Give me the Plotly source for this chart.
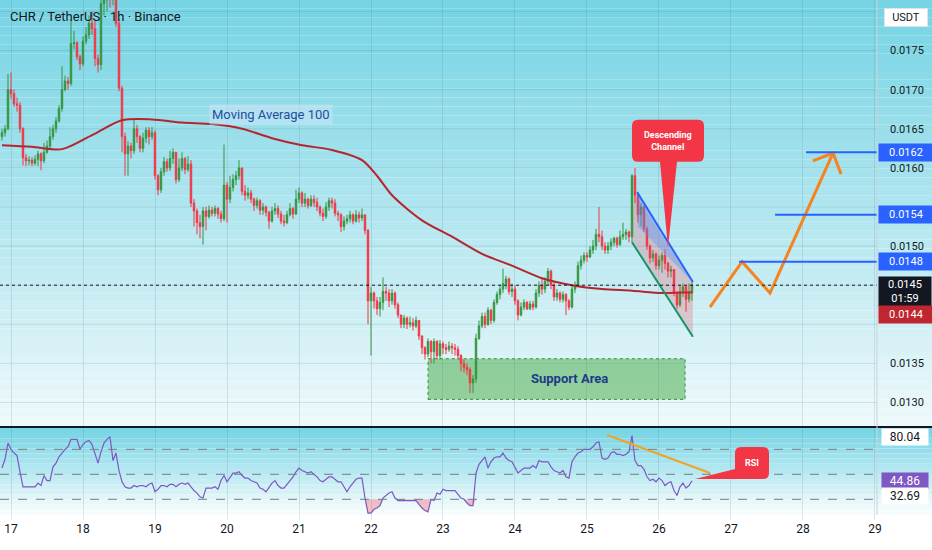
import numpy as np
import pandas as pd

import plotly.graph_objects as go

# CHR / USDT, 1h candles. Prices stored in units of 1e-5 USDT.
start = pd.Timestamp("2024-01-16 21:00")
open_first_e5 = 1640
close_e5 = [
    1645, 1650, 1700, 1695, 1682, 1680, 1650, 1613, 1609, 1610,
    1606, 1611, 1618, 1609, 1620, 1628, 1640, 1650, 1660, 1676,
    1700, 1711, 1708, 1759, 1760, 1742, 1733, 1762, 1770, 1785,
    1778, 1740, 1732, 1810, 1815, 1820, 1818, 1822, 1785, 1702,
    1640, 1618, 1628, 1622, 1650, 1640, 1625, 1638, 1648, 1640,
    1645, 1590, 1572, 1595, 1608, 1600, 1612, 1620, 1585, 1600,
    1612, 1598, 1605, 1555, 1545, 1530, 1525, 1545, 1538, 1546,
    1542, 1548, 1541, 1535, 1578, 1560, 1575, 1585, 1590, 1600,
    1570, 1565, 1568, 1560, 1552, 1558, 1546, 1550, 1543, 1532,
    1545, 1548, 1541, 1532, 1530, 1540, 1548, 1541, 1560, 1568,
    1555, 1560, 1552, 1560, 1556, 1550, 1542, 1538, 1550, 1558,
    1555, 1542, 1540, 1525, 1532, 1535, 1540, 1532, 1540, 1536,
    1540, 1520, 1430, 1440, 1430, 1420, 1428, 1442, 1440, 1430,
    1440, 1425, 1412, 1400, 1408, 1400, 1402, 1398, 1405, 1385,
    1370, 1362, 1378, 1365, 1378, 1360, 1375, 1370, 1368, 1372,
    1370, 1368, 1360, 1350, 1345, 1342, 1325, 1330, 1382, 1398,
    1410, 1400, 1418, 1405, 1428, 1438, 1445, 1452, 1458, 1442,
    1445, 1430, 1412, 1422, 1428, 1420, 1426, 1422, 1440, 1450,
    1445, 1455, 1468, 1450, 1435, 1440, 1432, 1438, 1430, 1422,
    1445, 1450, 1475, 1482, 1488, 1486, 1495, 1500, 1515, 1512,
    1500, 1495, 1500, 1505, 1510, 1502, 1512, 1515, 1518, 1512,
    1590, 1565, 1540, 1550, 1522, 1500, 1485, 1490, 1475, 1482,
    1488, 1478, 1468, 1470, 1440, 1425, 1442, 1448, 1432, 1440,
    1450,
]
high_e5 = [
    1650, 1655, 1720, 1722, 1700, 1690, 1684, 1652, 1618, 1615,
    1614, 1616, 1622, 1620, 1632, 1635, 1652, 1655, 1665, 1680,
    1730, 1718, 1716, 1790, 1775, 1762, 1745, 1768, 1780, 1795,
    1800, 1790, 1745, 1830, 1830, 1835, 1840, 1840, 1825, 1790,
    1705, 1645, 1634, 1632, 1662, 1655, 1642, 1645, 1652, 1652,
    1652, 1648, 1592, 1600, 1614, 1612, 1622, 1625, 1620, 1612,
    1620, 1614, 1615, 1610, 1560, 1548, 1540, 1550, 1550, 1552,
    1550, 1552, 1550, 1545, 1630, 1582, 1590, 1592, 1596, 1610,
    1600, 1578, 1575, 1572, 1562, 1562, 1560, 1555, 1552, 1545,
    1550, 1555, 1552, 1545, 1540, 1545, 1555, 1550, 1572, 1575,
    1570, 1568, 1562, 1565, 1565, 1562, 1552, 1548, 1556, 1562,
    1562, 1560, 1545, 1542, 1538, 1540, 1545, 1542, 1546, 1544,
    1548, 1540, 1522, 1448, 1442, 1435, 1435, 1460, 1448, 1445,
    1445, 1442, 1428, 1412, 1412, 1410, 1410, 1408, 1410, 1405,
    1386, 1372, 1382, 1380, 1382, 1380, 1380, 1378, 1375, 1378,
    1376, 1375, 1372, 1362, 1355, 1350, 1345, 1335, 1388, 1405,
    1415, 1415, 1422, 1420, 1432, 1442, 1450, 1471, 1462, 1460,
    1452, 1450, 1432, 1428, 1432, 1430, 1430, 1430, 1445, 1455,
    1458, 1460, 1472, 1470, 1455, 1445, 1442, 1442, 1440, 1432,
    1450, 1455, 1480, 1488, 1492, 1492, 1500, 1508, 1522, 1550,
    1520, 1505, 1505, 1510, 1512, 1512, 1520, 1530, 1522, 1520,
    1592, 1600, 1568, 1555, 1552, 1525, 1502, 1495, 1492, 1488,
    1492, 1496, 1480, 1475, 1470, 1442, 1450, 1452, 1450, 1452,
    1454,
]
low_e5 = [
    1635, 1640, 1648, 1688, 1678, 1672, 1645, 1603, 1602, 1603,
    1602, 1603, 1602, 1597, 1606, 1618, 1625, 1636, 1645, 1658,
    1672, 1698, 1700, 1705, 1752, 1738, 1725, 1730, 1758, 1765,
    1770, 1730, 1722, 1725, 1795, 1800, 1805, 1808, 1780, 1698,
    1620, 1590, 1590, 1612, 1618, 1632, 1620, 1620, 1632, 1630,
    1636, 1585, 1565, 1568, 1590, 1595, 1596, 1605, 1580, 1582,
    1596, 1592, 1595, 1550, 1525, 1515, 1510, 1502, 1520, 1535,
    1538, 1538, 1535, 1530, 1532, 1530, 1555, 1570, 1578, 1585,
    1565, 1558, 1560, 1555, 1545, 1548, 1540, 1540, 1538, 1522,
    1530, 1540, 1536, 1528, 1525, 1528, 1538, 1535, 1540, 1555,
    1550, 1550, 1548, 1550, 1550, 1545, 1538, 1532, 1535, 1545,
    1548, 1538, 1532, 1518, 1520, 1528, 1530, 1528, 1530, 1530,
    1532, 1515, 1400, 1360, 1420, 1412, 1410, 1418, 1430, 1422,
    1425, 1420, 1408, 1395, 1395, 1394, 1396, 1392, 1395, 1380,
    1362, 1355, 1358, 1350, 1350, 1355, 1355, 1362, 1362, 1365,
    1362, 1360, 1355, 1340, 1338, 1335, 1312, 1312, 1325, 1380,
    1395, 1395, 1398, 1400, 1402, 1425, 1432, 1440, 1445, 1438,
    1435, 1425, 1405, 1410, 1418, 1418, 1418, 1418, 1420, 1435,
    1438, 1440, 1450, 1445, 1430, 1430, 1428, 1428, 1412, 1418,
    1420, 1440, 1448, 1470, 1478, 1480, 1485, 1490, 1495, 1505,
    1495, 1490, 1490, 1495, 1500, 1498, 1500, 1508, 1508, 1505,
    1505, 1555, 1530, 1525, 1518, 1495, 1478, 1480, 1470, 1470,
    1466, 1470, 1460, 1460, 1436, 1420, 1422, 1435, 1416, 1428,
    1430,
]
rsi = [
    55, 62, 75, 70, 67, 65, 52, 40, 40, 40,
    40, 40, 43, 41, 49, 45, 45, 56, 59, 64,
    67, 70, 72, 78, 78, 78, 70, 74, 76, 77,
    74, 66, 59, 68, 75, 78, 80, 61, 67, 53,
    44, 40, 39, 39, 41, 40, 41, 41, 40, 42,
    43, 36, 38, 41, 41, 40, 42, 42, 40, 42,
    43, 42, 43, 40, 37, 35, 32, 31, 39, 39,
    39, 40, 38, 45, 49, 44, 48, 51, 51, 52,
    49, 47, 47, 45, 44, 43, 39, 38, 36, 40,
    43, 45, 41, 39, 39, 42, 45, 48, 52, 55,
    53, 52, 51, 52, 50, 48, 45, 44, 46, 48,
    48, 46, 44, 44, 40, 36, 40, 43, 46, 47,
    47, 31, 19, 19, 22, 23, 25, 31, 33, 35,
    36, 31, 29, 29, 29, 29, 29, 29, 29, 26,
    23, 21, 20, 30, 29, 35, 34, 38, 37, 37,
    37, 37, 34, 31, 30, 27, 25, 25, 51, 58,
    61, 64, 55, 60, 63, 64, 64, 67, 63, 61,
    60, 55, 51, 53, 55, 55, 55, 57, 55, 61,
    60, 60, 60, 56, 53, 52, 51, 53, 48, 47,
    60, 64, 67, 68, 70, 70, 70, 72, 75, 76,
    63, 62, 63, 67, 68, 66, 66, 65, 66, 68,
    81, 61, 57, 57, 54, 48, 45, 46, 44, 47,
    45, 41, 43, 44, 37, 33, 40, 43, 39, 41,
    44.86,
]

# moving average 100, read at some candle indexes (hours from start)
ma_h = [0, 10, 20, 30, 40, 50, 60, 70, 80, 90, 100, 110, 120, 125,
        130, 140, 150, 160, 170, 180, 190, 200, 210, 220, 230]
ma_e5 = [1629, 1627, 1624, 1642, 1661, 1662, 1658, 1656, 1650, 1638, 1629,
         1623, 1610, 1590, 1565, 1533, 1512, 1490, 1475, 1459, 1450, 1445,
         1443, 1440, 1441]

# drawings (hours from start, price)
chan_top_h, chan_top_p = [211.7, 230.3], [0.01569, 0.01454]
chan_bot_h, chan_bot_p = [210.0, 230.3], [0.01505, 0.01384]
chan_blue_h, chan_blue_p = [211.7, 230.3, 212.0], [0.01569, 0.01454, 0.01525]
chan_pink_h = [210.7, 230.3, 230.3, 210.0]
chan_pink_p = [0.01569, 0.01452, 0.01384, 0.01505]
proj_h, proj_p = [236, 246.7, 256, 277], [0.01422, 0.01480, 0.01440, 0.01619]
arrow_h, arrow_p = [270.3, 277, 279.7], [0.01609, 0.01619, 0.01592]
support_h, support_p = [142, 227.7], [0.01304, 0.01356]
levels = [0.0162, 0.0154, 0.0148]
level_from_h = [268, 257.7, 245.7]
last_price = 0.0145
ma_last = 0.0144
rsi_trend_h, rsi_trend_v = [201.7, 236], [81.4, 51]
rsi_marks = [80.04, 44.86, 32.69]
# 0.0140 / 0.0145 / 0.0155 sit under the price labels on the scale
price_ticks = [0.0130, 0.0135, 0.0150, 0.0160, 0.0165, 0.0170, 0.0175]
grid_prices = [0.0130, 0.0135, 0.0140, 0.0145, 0.0150, 0.0155,
               0.0160, 0.0165, 0.0170, 0.0175, 0.0180]

GREEN = "#35953f"
RED = "#f23645"
BLUE = "#2962ff"
GRID = "rgba(70,110,130,0.16)"


def at(h):
    return (start + pd.Timedelta(hours=h)).strftime("%Y-%m-%d %H:%M:%S")


n = len(close_e5)
t = [at(h) for h in range(n)]
close = np.array(close_e5) / 1e5
opn = np.r_[open_first_e5, close_e5[:-1]] / 1e5
high = np.maximum.reduce([np.array(high_e5) / 1e5, opn, close])
low = np.minimum.reduce([np.array(low_e5) / 1e5, opn, close])
x_lo, x_hi = at(-2 / 3), at(291.67)

fig = go.Figure()
fig.add_trace(go.Candlestick(
    x=t, open=opn, high=high, low=low, close=close,
    increasing=dict(line=dict(color=GREEN, width=1), fillcolor=GREEN),
    decreasing=dict(line=dict(color=RED, width=1), fillcolor=RED),
    hoverinfo="skip", showlegend=False))
fig.add_trace(go.Scatter(
    x=[at(h) for h in ma_h], y=np.array(ma_e5) / 1e5, mode="lines",
    line=dict(color="#b3262f", width=2, shape="spline", smoothing=0.8)))

# descending channel
fig.add_trace(go.Scatter(x=[at(h) for h in chan_pink_h], y=chan_pink_p,
                         fill="toself", fillcolor="rgba(242,54,69,0.22)",
                         mode="lines", line=dict(width=0)))
fig.add_trace(go.Scatter(x=[at(h) for h in chan_blue_h], y=chan_blue_p,
                         fill="toself", fillcolor="rgba(80,140,255,0.35)",
                         mode="lines", line=dict(width=0)))
fig.add_trace(go.Scatter(x=[at(h) for h in chan_top_h], y=chan_top_p,
                         mode="lines", line=dict(color=BLUE, width=2)))
fig.add_trace(go.Scatter(x=[at(h) for h in chan_bot_h], y=chan_bot_p,
                         mode="lines", line=dict(color="#16936a", width=2)))
# projected path
for hh, pp in [(proj_h, proj_p), (arrow_h, arrow_p)]:
    fig.add_trace(go.Scatter(x=[at(h) for h in hh], y=pp, mode="lines",
                             line=dict(color="#f5841f", width=3)))

# RSI panel
fig.add_trace(go.Scatter(x=t, y=[30] * n, yaxis="y2", mode="lines",
                         line=dict(width=0)))
fig.add_trace(go.Scatter(x=t, y=np.minimum(rsi, 30), yaxis="y2", mode="lines",
                         line=dict(width=0), fill="tonexty",
                         fillcolor="rgba(242,54,69,0.3)"))
fig.add_trace(go.Scatter(x=t, y=rsi, yaxis="y2", mode="lines",
                         line=dict(color="#7e57c2", width=1.2)))
fig.add_trace(go.Scatter(x=[at(h) for h in rsi_trend_h], y=rsi_trend_v,
                         yaxis="y2", mode="lines",
                         line=dict(color="#f0a32a", width=2)))

shapes = []
# background gradient, price pane then RSI pane
pane_top, pane_bot = 1.0, 0.1808
steps = 48
for k in range(steps):
    f = k / (steps - 1)
    c = [int(a + (b - a) * f) for a, b in zip((118, 212, 228), (238, 249, 251))]
    y1 = pane_top - (pane_top - pane_bot) * k / steps
    y0 = pane_top - (pane_top - pane_bot) * (k + 1) / steps
    shapes.append(dict(type="rect", xref="paper", yref="paper", x0=0, x1=1.07,
                       y0=y0, y1=y1, fillcolor=f"rgb({c[0]},{c[1]},{c[2]})",
                       line=dict(width=0), layer="below"))
steps = 18
for k in range(steps):
    f = k / (steps - 1)
    c = [int(a + (b - a) * f) for a, b in zip((120, 213, 229), (255, 255, 255))]
    y1 = 0.1769 - 0.1769 * k / steps
    y0 = 0.1769 - 0.1769 * (k + 1) / steps
    shapes.append(dict(type="rect", xref="paper", yref="paper", x0=0, x1=1.07,
                       y0=y0, y1=y1, fillcolor=f"rgb({c[0]},{c[1]},{c[2]})",
                       line=dict(width=0), layer="below"))
for g in grid_prices:
    shapes.append(dict(type="line", xref="paper", yref="y", x0=0, x1=1,
                       y0=g, y1=g, line=dict(color=GRID, width=1),
                       layer="below"))

shapes.append(dict(type="rect", xref="x", yref="y",
                   x0=at(support_h[0]), x1=at(support_h[1]),
                   y0=support_p[0], y1=support_p[1],
                   fillcolor="rgba(76,175,80,0.55)",
                   line=dict(color="#3a8f3f", width=1, dash="dot"),
                   layer="below"))
for lv, h0 in zip(levels, level_from_h):
    shapes.append(dict(type="line", xref="x", yref="y", x0=at(h0), x1=x_hi,
                       y0=lv, y1=lv, line=dict(color=BLUE, width=2)))
shapes.append(dict(type="line", xref="paper", yref="y", x0=0, x1=1,
                   y0=last_price, y1=last_price,
                   line=dict(color="#131722", width=1, dash="dot")))
for v in [70, 50, 30]:
    shapes.append(dict(type="line", xref="paper", yref="y2", x0=0, x1=1,
                       y0=v, y1=v, line=dict(color="#787b86", width=1, dash="dash")))
# pane divider and price scale border
shapes.append(dict(type="line", xref="paper", yref="paper", x0=0, x1=1.07,
                   y0=0.1789, y1=0.1789, line=dict(color="#131722", width=2)))
shapes.append(dict(type="line", xref="paper", yref="paper", x0=1, x1=1,
                   y0=0.01, y1=1, line=dict(color="#c9d3da", width=1)))

# callouts (pixel paths anchored at the pointer tip)
shapes.append(dict(
    type="path", xref="x", yref="y", xsizemode="pixel", ysizemode="pixel",
    xanchor=at(222), yanchor=0.01498, fillcolor=RED, line=dict(width=0),
    path="M -8,86 L -30,86 Q -36,86 -36,92 L -36,122 Q -36,128 -30,128 "
         "L 30,128 Q 36,128 36,122 L 36,92 Q 36,86 30,86 L 9,86 L 0,0 Z"))
shapes.append(dict(
    type="path", xref="x", yref="y2", xsizemode="pixel", ysizemode="pixel",
    xanchor=at(231), yanchor=46.2, fillcolor=RED, line=dict(width=0),
    path="M 0,0 L 40,10 L 40,26 Q 40,32 46,32 L 68,32 Q 74,32 74,26 "
         "L 74,6 Q 74,0 68,0 Z"))

ann = [
    dict(text="CHR / TetherUS · 1h · Binance", xref="paper", yref="paper",
         x=0, y=1, xanchor="left", yanchor="top", xshift=8, yshift=-7,
         showarrow=False, font=dict(size=13, color="#131722")),
    dict(text="Moving Average 100", x=at(89.7), y=0.01668, showarrow=False,
         bgcolor="rgba(200,228,246,0.6)", borderpad=2,
         font=dict(size=13, color="#1c4fa0")),
    dict(text="<b>Support Area</b>", x=at(189.3), y=0.01331, showarrow=False,
         font=dict(size=13, color="#1e3a8a")),
    dict(text="<b>Descending<br>Channel</b>", x=at(222), y=0.01498, yshift=107,
         showarrow=False, font=dict(size=9, color="white")),
    dict(text="<b>RSI</b>", x=at(231), y=46.2, yref="y2", xshift=57, yshift=16,
         showarrow=False, font=dict(size=9, color="white")),
    dict(text="USDT", xref="paper", yref="paper", x=1, y=1, xanchor="left",
         yanchor="top", xshift=7, yshift=-8, showarrow=False, width=38,
         bgcolor="white", bordercolor="#dfe3ea", borderwidth=1, borderpad=2,
         font=dict(size=11, color="#131722")),
]
for lv in levels:
    ann.append(dict(text=f"{lv:.4f}", xref="paper", x=1, y=lv, xanchor="left",
                    xshift=1, showarrow=False, width=50, bgcolor=BLUE,
                    borderpad=2, font=dict(size=11, color="white")))
ann.append(dict(text=f"{last_price:.4f}<br>01:59", xref="paper", x=1,
                y=last_price, xanchor="left", yanchor="top", xshift=1, yshift=9,
                showarrow=False, width=50, bgcolor="#131722", borderpad=1,
                font=dict(size=11, color="white")))
ann.append(dict(text=f"{ma_last:.4f}", xref="paper", x=1, y=ma_last,
                xanchor="left", xshift=1, yshift=-21, showarrow=False, width=50,
                bgcolor="#c0262f", borderpad=2, font=dict(size=11, color="white")))
for v, bg, fc in zip(rsi_marks, ["white", "#7e57c2", "white"],
                     ["#131722", "white", "#131722"]):
    ann.append(dict(text=f"{v:.2f}", xref="paper", yref="y2", x=1, y=v,
                    xanchor="left", xshift=4, showarrow=False, width=44,
                    bgcolor=bg, borderpad=1, font=dict(size=12, color=fc)))

fig.update_layout(
    width=932, height=550, margin=dict(l=0, r=55, t=0, b=30),
    paper_bgcolor="white", plot_bgcolor="rgba(0,0,0,0)", showlegend=False,
    font=dict(family="Roboto", size=11, color="#131722"),
    shapes=shapes, annotations=ann,
    xaxis=dict(domain=[0, 1], anchor="y2", type="date", range=[x_lo, x_hi],
               tick0="2024-01-17", dtick=86400000, tickformat="%-d",
               tickfont=dict(size=12), showgrid=True, gridcolor=GRID,
               zeroline=False, showline=False, ticks="",
               rangeslider=dict(visible=False)),
    yaxis=dict(domain=[0.1808, 1], anchor="x", side="right",
               range=[0.0127, 0.018147], tickvals=price_ticks,
               ticktext=[f"{v:.4f}" for v in price_ticks],
               showgrid=False, zeroline=False, ticks="",
               ticklabelstandoff=12, automargin=False),
    yaxis2=dict(domain=[0, 0.1769], anchor="x", side="right",
                range=[13.44, 87.04], showticklabels=False, showgrid=False,
                zeroline=False, ticks=""),
)

fig.write_html("out.html", config={"displayModeBar": False},
               post_script="document.body.style.margin='0';")
